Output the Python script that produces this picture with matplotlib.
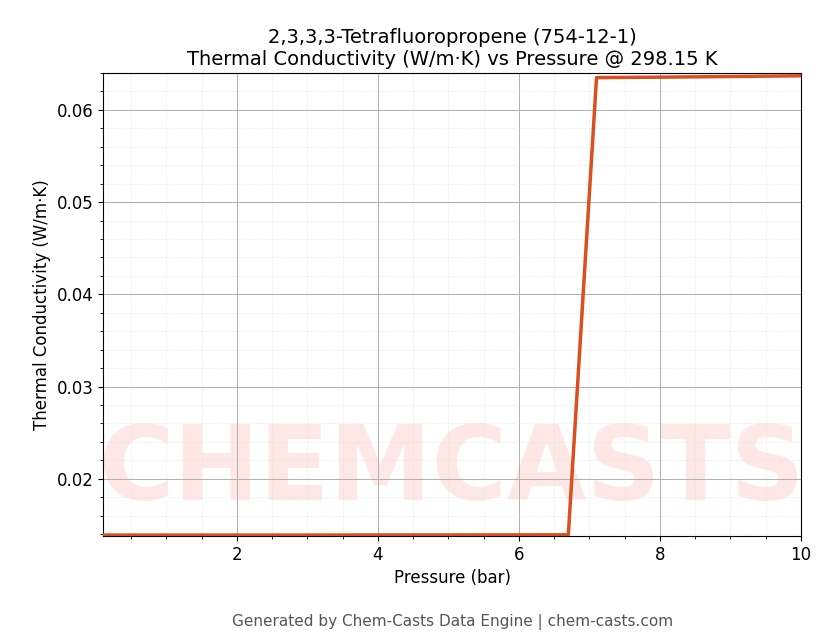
import matplotlib
matplotlib.use('Agg')
import matplotlib.pyplot as plt
from matplotlib.ticker import AutoMinorLocator

pressure = [0.1, 1.0, 2.0, 3.0, 4.0, 5.0, 6.0, 6.7, 7.1, 8.0, 9.0, 10.0]
conductivity = [0.01390, 0.01390, 0.01390, 0.01390, 0.01391, 0.01391, 0.01392, 0.01393,
                0.06350, 0.06355, 0.06362, 0.06370]

fig = plt.figure(figsize=(8.3, 6.44), dpi=100)
ax = fig.add_axes([103/830, 1 - 536/644, (801 - 103)/830, (536 - 73)/644])

# faint watermark inside the axes
ax.text(0.5, 0.14, 'CHEMCASTS', transform=ax.transAxes, fontsize=74, fontweight='bold',
        color='#fde8e5', ha='center', va='center', zorder=0, clip_on=True)

ax.plot(pressure, conductivity, color='#d9501e', linewidth=2.5, zorder=3)
ax.set_xlim(0.1, 10)
ax.set_ylim(0.0138, 0.064)
ax.xaxis.set_minor_locator(AutoMinorLocator(4))
ax.yaxis.set_minor_locator(AutoMinorLocator(5))
ax.grid(which='major', color='#b0b0b0', linewidth=0.7)
ax.grid(which='minor', color='#dddddd', linewidth=0.5, linestyle=':')
ax.tick_params(labelsize=12)
ax.set_xlabel('Pressure (bar)', fontsize=12)
ax.set_ylabel('Thermal Conductivity (W/m·K)', fontsize=12)
ax.set_title('2,3,3,3-Tetrafluoropropene (754-12-1)\nThermal Conductivity (W/m·K) vs Pressure @ 298.15 K',
             fontsize=14)
fig.text(0.545, 0.028, 'Generated by Chem-Casts Data Engine | chem-casts.com',
         ha='center', fontsize=11, color='#555555')

fig.savefig('out.png', dpi=100)
